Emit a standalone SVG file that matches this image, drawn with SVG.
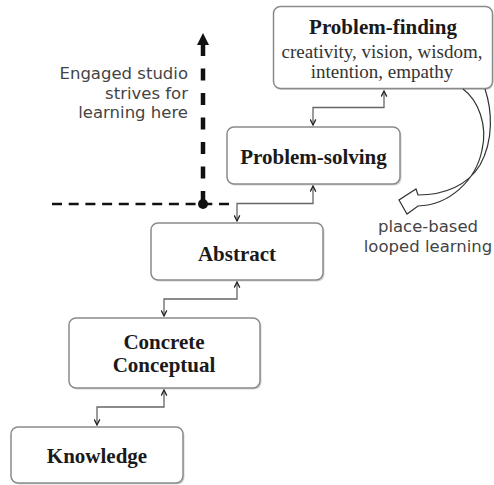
<svg xmlns="http://www.w3.org/2000/svg" width="494" height="485" viewBox="0 0 494 485">
<style>
.box{fill:#fff;stroke:#8a8a8a;stroke-width:1.5}
.shadow{fill:#d4d4d4;stroke:none}
.title{font-family:"Liberation Serif","Times New Roman",serif;font-weight:bold;font-size:21px;fill:#1a1a1a;text-anchor:middle}
.sub{font-family:"Liberation Serif","Times New Roman",serif;font-size:19px;fill:#333;text-anchor:middle}
.note{font-family:"DejaVu Sans",Verdana,sans-serif;font-size:16.5px;fill:#444}
.conn{fill:none;stroke:#666;stroke-width:1.3}
</style>
<defs>
<marker id="chev" viewBox="0 0 10 10" refX="9" refY="5" markerWidth="7" markerHeight="7" markerUnits="userSpaceOnUse" orient="auto-start-reverse">
<path d="M1,1 L9,5 L1,9" fill="none" stroke="#222" stroke-width="1.8"/>
</marker>
</defs>

<g id="knowledge">
<rect class="shadow" x="12.5" y="428.5" width="172" height="56" rx="7"/>
<rect class="box" x="11" y="427" width="172" height="56" rx="7"/>
<text class="title" x="97" y="463">Knowledge</text>
</g>
<g id="concrete-conceptual">
<rect class="shadow" x="70.5" y="319.5" width="191" height="70" rx="7"/>
<rect class="box" x="69" y="318" width="191" height="70" rx="7"/>
<text class="title" x="164" y="349">Concrete</text>
<text class="title" x="164" y="372">Conceptual</text>
</g>
<g id="abstract">
<rect class="shadow" x="152.5" y="224.5" width="172" height="57" rx="7"/>
<rect class="box" x="151" y="223" width="172" height="57" rx="7"/>
<text class="title" x="237" y="261">Abstract</text>
</g>
<g id="problem-solving">
<rect class="shadow" x="228.5" y="128.5" width="173" height="57" rx="7"/>
<rect class="box" x="227" y="127" width="173" height="57" rx="7"/>
<text class="title" x="313.5" y="164">Problem-solving</text>
</g>
<g id="problem-finding">
<rect class="shadow" x="274.5" y="8" width="219" height="82" rx="7"/>
<rect class="box" x="273.5" y="6.5" width="219" height="82" rx="7"/>
<text class="title" x="383" y="34">Problem-finding</text>
<text class="sub" x="382" y="58">creativity, vision, wisdom,</text>
<text class="sub" x="382" y="78">intention, empathy</text>
</g>

<g id="connectors">
<path class="conn" d="M313,125 V107.5 H384 V91" marker-start="url(#chev)" marker-end="url(#chev)"/>
<path class="conn" d="M237,221 V203.5 H313 V186" marker-start="url(#chev)" marker-end="url(#chev)"/>
<path class="conn" d="M164,316 V299 H237 V282" marker-start="url(#chev)" marker-end="url(#chev)"/>
<path class="conn" d="M97,425 V407 H164 V390" marker-start="url(#chev)" marker-end="url(#chev)"/>
</g>

<g id="threshold">
<line x1="52" y1="204" x2="229" y2="204" stroke="#111" stroke-width="2.5" stroke-dasharray="10 6.7"/>
<line x1="203" y1="44" x2="203" y2="203" stroke="#111" stroke-width="4.5" stroke-dasharray="12 12.5"/>
<polygon points="197,45 203,33 209,45" fill="#111"/>
<circle cx="203" cy="204" r="5" fill="#111"/>
</g>

<g id="loop-arrow">
<path d="M485,89 C492,110 494,140 480,165 C468,185 445,195 418,195 L416,189 L399,200 L407,214 L418,206 C450,205 476,180 482,150 C488,125 478,100 463,89" fill="none" stroke="#333" stroke-width="1.2" stroke-linejoin="miter"/>
</g>

<g id="labels">
<text class="note" x="188" y="79" text-anchor="end">Engaged studio</text>
<text class="note" x="188" y="99" text-anchor="end">strives for</text>
<text class="note" x="188" y="118" text-anchor="end">learning here</text>
<text class="note" x="428" y="232" text-anchor="middle">place-based</text>
<text class="note" x="428" y="252" text-anchor="middle">looped learning</text>
</g>
</svg>
